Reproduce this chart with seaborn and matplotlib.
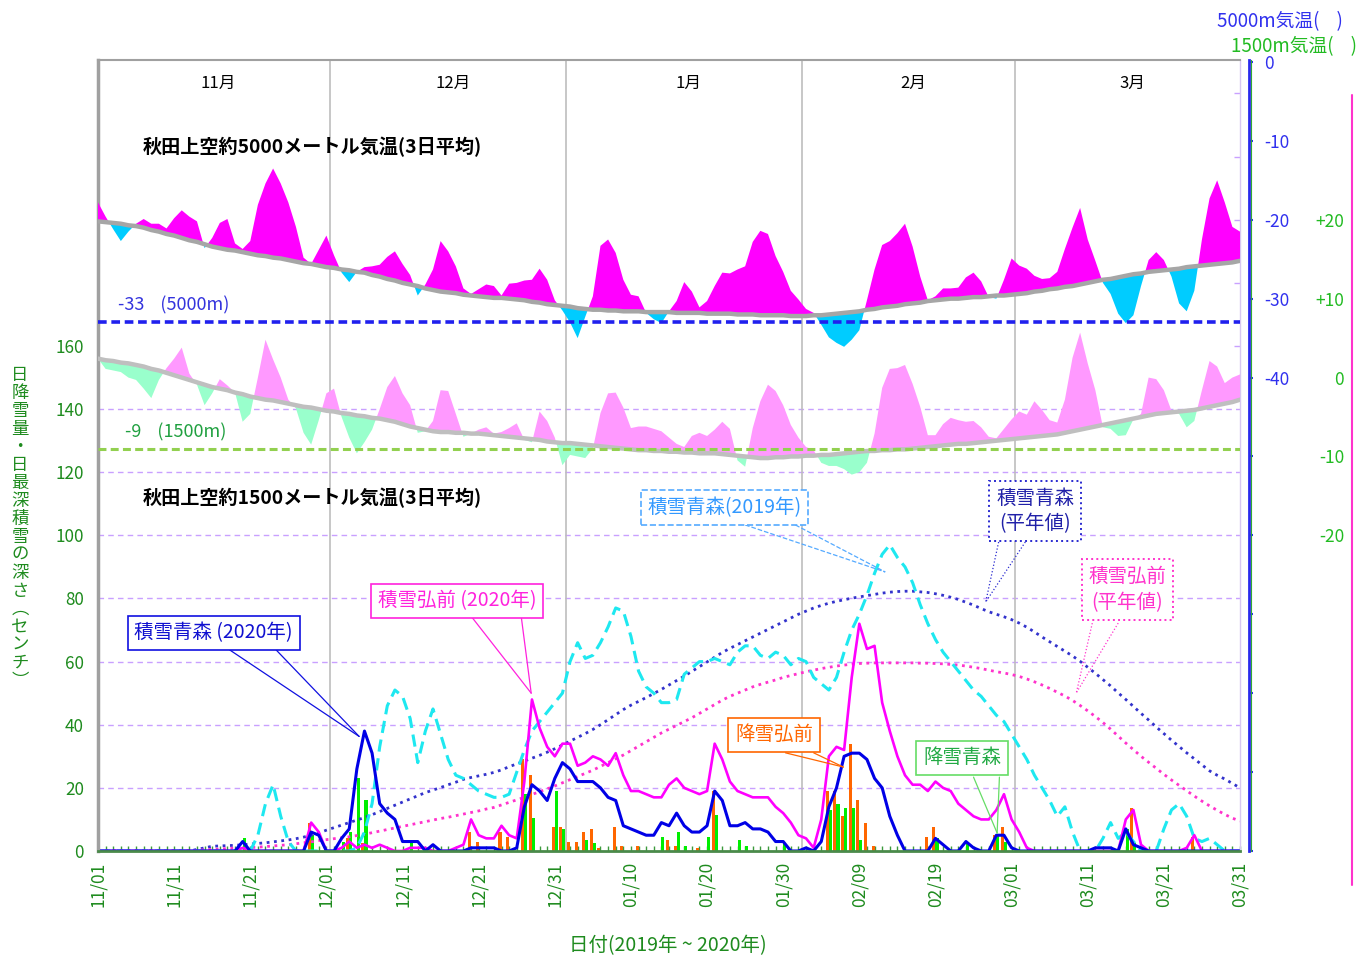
import numpy as np
import pandas as pd
import matplotlib
matplotlib.use("Agg")
import matplotlib.pyplot as plt
import matplotlib.transforms as mtransforms
from matplotlib.lines import Line2D
import seaborn as sns

sns.set_style("white")
plt.rcParams['font.family'] = ['Noto Sans CJK JP', 'DejaVu Sans']
plt.rcParams['axes.unicode_minus'] = False

# 日付 (シートに 2/29 はない)
dates = [d for d in pd.date_range("2019-11-01", "2020-03-31") if not (d.month == 2 and d.day == 29)]
days = np.arange(len(dates))
tick_days = list(range(0, len(dates), 10))
tick_labels = [dates[i].strftime("%m/%d") for i in tick_days]
month_names = ["11月", "12月", "1月", "2月", "3月"]

# 秋田上空5000m 気温 (3日平均) と平年値
temp5000 = [
    -17.8, -19.6, -21.2, -22.7, -21.5, -20.5, -19.9, -20.5, -20.5, -21.1,
    -19.8, -18.8, -19.6, -20.2, -23.6, -22.3, -20.4, -19.9, -23.0, -23.7,
    -22.7, -18.1, -15.4, -13.5, -15.4, -17.8, -20.9, -24.8, -25.6, -23.8,
    -22.0, -24.5, -26.7, -27.9, -26.6, -26.0, -25.9, -25.7, -24.7, -24.0,
    -25.6, -27.0, -29.6, -28.2, -26.3, -22.7, -24.0, -25.9, -28.7, -29.4,
    -28.8, -28.2, -28.4, -29.6, -28.1, -28.0, -27.7, -27.6, -26.2, -27.6,
    -30.2, -31.5, -33.0, -35.0, -32.3, -29.7, -23.3, -22.5, -24.2, -27.6,
    -29.5, -29.7, -31.8, -32.6, -33.1, -31.6, -30.3, -27.9, -29.1, -31.1,
    -30.3, -28.4, -26.7, -26.8, -26.3, -25.9, -22.8, -21.4, -21.8, -24.6,
    -26.6, -29.0, -30.1, -31.3, -31.8, -33.3, -34.9, -35.6, -36.1, -35.2,
    -34.0, -30.2, -26.3, -23.2, -22.7, -21.7, -20.5, -23.4, -27.2, -30.2,
    -29.7, -28.7, -28.7, -28.6, -27.3, -26.7, -27.8, -29.8, -30.0, -27.6,
    -24.9, -25.8, -26.2, -27.1, -27.5, -27.4, -26.6, -23.7, -21.0, -18.5,
    -22.5, -25.2, -28.0, -29.4, -31.9, -33.1, -32.1, -28.4, -25.1, -24.1,
    -25.1, -27.2, -30.6, -31.6, -29.0, -22.5, -17.3, -15.0, -17.8, -20.9,
    -21.5,
]
temp5000_norm = [
    -20.2, -20.3, -20.4, -20.5, -20.7, -20.8, -21.0, -21.3, -21.5, -21.8,
    -22.0, -22.3, -22.6, -22.8, -23.1, -23.4, -23.6, -23.8, -23.9, -24.1,
    -24.3, -24.5, -24.6, -24.8, -24.9, -25.1, -25.3, -25.5, -25.6, -25.8,
    -26.0, -26.1, -26.3, -26.4, -26.6, -26.7, -27.0, -27.2, -27.5, -27.7,
    -28.0, -28.2, -28.4, -28.7, -28.9, -29.1, -29.2, -29.3, -29.5, -29.6,
    -29.7, -29.8, -29.9, -29.9, -30.0, -30.1, -30.2, -30.4, -30.5, -30.7,
    -30.8, -30.9, -31.0, -31.2, -31.3, -31.4, -31.4, -31.5, -31.5, -31.6,
    -31.6, -31.6, -31.7, -31.7, -31.7, -31.7, -31.8, -31.8, -31.8, -31.8,
    -31.9, -31.9, -31.9, -31.9, -32.0, -32.0, -32.0, -32.1, -32.1, -32.1,
    -32.1, -32.2, -32.2, -32.2, -32.1, -32.1, -32.0, -31.9, -31.8, -31.7,
    -31.6, -31.4, -31.3, -31.1, -31.0, -30.9, -30.7, -30.6, -30.5, -30.3,
    -30.2, -30.1, -30.0, -30.0, -29.9, -29.8, -29.8, -29.7, -29.6, -29.6,
    -29.5, -29.4, -29.3, -29.1, -29.0, -28.8, -28.7, -28.5, -28.4, -28.2,
    -28.0, -27.8, -27.6, -27.5, -27.3, -27.1, -26.9, -26.8, -26.6, -26.5,
    -26.4, -26.3, -26.2, -26.0, -25.9, -25.8, -25.7, -25.6, -25.5, -25.4,
    -25.2,
]

# 秋田上空1500m 気温 (3日平均) と平年値
temp1500 = [
    2.4, 1.1, 0.9, 0.7, 0.0, -0.3, -1.4, -2.6, -0.3, 1.2,
    2.4, 3.8, 0.5, -0.9, -3.5, -2.0, -0.2, -1.0, -1.9, -5.6,
    -4.6, 0.0, 4.8, 2.3, 0.0, -2.8, -3.9, -7.0, -8.5, -5.4,
    -2.0, -1.4, -5.0, -7.6, -9.6, -8.2, -6.6, -4.0, -1.2, 0.2,
    -2.0, -3.5, -7.0, -6.8, -5.5, -1.6, -1.7, -4.6, -7.5, -7.1,
    -6.6, -6.3, -7.1, -6.9, -6.4, -5.8, -7.9, -8.2, -4.3, -5.5,
    -7.6, -11.1, -9.8, -10.0, -10.2, -9.0, -4.5, -2.0, -1.9, -3.8,
    -6.4, -6.2, -6.2, -6.5, -6.8, -7.6, -8.4, -8.8, -7.4, -7.0,
    -7.4, -6.6, -5.6, -6.5, -10.5, -11.3, -6.4, -3.0, -0.9, -1.7,
    -3.5, -6.0, -7.6, -8.8, -9.2, -10.8, -11.2, -11.2, -11.6, -12.3,
    -12.0, -10.8, -7.1, -1.3, 1.1, 1.2, 1.6, -0.8, -3.7, -7.3,
    -7.3, -5.9, -5.1, -5.4, -5.6, -5.5, -6.3, -7.5, -7.7, -6.5,
    -5.3, -4.3, -4.7, -3.0, -4.1, -5.4, -5.7, -2.8, 2.5, 5.7,
    1.8, -1.6, -6.3, -6.5, -7.4, -7.3, -5.3, -4.6, 0.0, -0.2,
    -1.6, -4.2, -4.6, -6.3, -5.5, -1.6, 2.1, 1.4, -0.7, 0.0,
    0.4,
]
temp1500_norm = [
    2.4, 2.2, 2.1, 1.9, 1.8, 1.6, 1.4, 1.1, 0.9, 0.6,
    0.3, 0.0, -0.3, -0.6, -0.9, -1.2, -1.4, -1.6, -1.9, -2.1,
    -2.4, -2.6, -2.8, -2.9, -3.1, -3.3, -3.5, -3.7, -3.8, -4.0,
    -4.2, -4.3, -4.5, -4.6, -4.8, -4.9, -5.1, -5.2, -5.4, -5.6,
    -5.9, -6.2, -6.4, -6.6, -6.8, -6.9, -6.9, -7.0, -7.0, -7.1,
    -7.1, -7.2, -7.3, -7.4, -7.5, -7.6, -7.7, -7.8, -7.9, -8.1,
    -8.2, -8.3, -8.3, -8.4, -8.5, -8.6, -8.7, -8.8, -8.9, -9.0,
    -9.1, -9.2, -9.2, -9.3, -9.3, -9.4, -9.4, -9.5, -9.5, -9.6,
    -9.6, -9.6, -9.7, -9.8, -9.9, -10.0, -10.1, -10.2, -10.2, -10.1,
    -10.1, -10.0, -10.0, -9.9, -9.9, -9.8, -9.8, -9.7, -9.6, -9.5,
    -9.4, -9.3, -9.3, -9.2, -9.2, -9.1, -9.1, -9.0, -8.9, -8.8,
    -8.7, -8.6, -8.5, -8.4, -8.4, -8.3, -8.2, -8.1, -8.0, -7.9,
    -7.8, -7.7, -7.6, -7.5, -7.4, -7.3, -7.2, -7.0, -6.8, -6.6,
    -6.4, -6.2, -6.0, -5.8, -5.6, -5.4, -5.2, -5.0, -4.8, -4.6,
    -4.5, -4.4, -4.3, -4.2, -4.1, -3.9, -3.7, -3.5, -3.3, -3.1,
    -2.8,
]

# 積雪の深さ (cm)
depth_aomori_2020 = [
    0, 0, 0, 0, 0, 0, 0, 0, 0, 0,
    0, 0, 0, 0, 0, 0, 0, 0, 0, 3,
    0, 0, 0, 0, 0, 0, 0, 0, 6, 5,
    0, 0, 4, 7, 26, 38, 31, 15, 12, 10,
    3, 3, 3, 0, 2, 0, 0, 0, 0, 1,
    1, 1, 1, 0, 0, 1, 14, 21, 19, 16,
    23, 28, 26, 22, 22, 22, 20, 17, 16, 8,
    7, 6, 5, 5, 9, 8, 12, 8, 6, 6,
    8, 19, 16, 8, 8, 9, 7, 7, 6, 3,
    3, 0, 0, 1, 0, 3, 14, 20, 30, 31,
    31, 29, 23, 20, 11, 5, 0, 0, 0, 0,
    4, 2, 0, 0, 3, 1, 0, 0, 5, 5,
    1, 0, 0, 0, 0, 0, 0, 0, 0, 0,
    0, 1, 1, 1, 0, 7, 2, 1, 0, 0,
    0, 0, 0, 0, 0, 0, 0, 0, 0, 0,
    0,
]
depth_hirosaki_2020 = [
    0, 0, 0, 0, 0, 0, 0, 0, 0, 0,
    0, 0, 0, 0, 0, 0, 0, 0, 0, 1,
    0, 0, 0, 0, 0, 0, 0, 0, 9, 6,
    0, 0, 1, 3, 1, 2, 1, 2, 1, 0,
    0, 1, 1, 1, 0, 0, 0, 1, 2, 10,
    5, 4, 4, 8, 5, 4, 22, 48, 39, 33,
    30, 34, 34, 27, 28, 30, 29, 27, 31, 24,
    19, 19, 18, 17, 17, 21, 23, 20, 19, 18,
    19, 34, 29, 22, 19, 18, 17, 17, 17, 14,
    12, 9, 5, 4, 1, 10, 30, 33, 32, 55,
    72, 64, 65, 47, 38, 30, 24, 21, 21, 19,
    22, 20, 19, 15, 13, 11, 10, 10, 13, 18,
    10, 6, 1, 0, 0, 0, 0, 0, 0, 0,
    0, 0, 0, 0, 0, 10, 13, 2, 0, 0,
    0, 0, 0, 1, 5, 0, 0, 0, 0, 0,
    0,
]
depth_aomori_2019 = [
    0, 0, 0, 0, 0, 0, 0, 0, 0, 0,
    0, 0, 0, 0, 0, 0, 0, 0, 0, 0,
    0, 5, 15, 21, 11, 3, 0, 0, 0, 0,
    0, 0, 0, 0, 1, 6, 15, 33, 46, 51,
    49, 42, 28, 38, 45, 37, 29, 24, 23, 21,
    19, 18, 17, 17, 18, 25, 32, 38, 41, 44,
    47, 50, 60, 66, 61, 62, 66, 71, 77, 76,
    68, 57, 52, 50, 47, 47, 48, 56, 58, 60,
    60, 61, 60, 59, 63, 65, 65, 62, 61, 63,
    62, 59, 61, 60, 55, 53, 51, 55, 63, 70,
    75, 81, 88, 94, 97, 93, 90, 85, 78, 72,
    67, 63, 60, 57, 54, 51, 49, 46, 43, 41,
    37, 33, 29, 24, 20, 16, 11, 14, 6, 0,
    0, 0, 4, 9, 4, 6, 3, 0, 0, 0,
    7, 13, 15, 11, 4, 3, 4, 2, 0, 0,
    0,
]
depth_aomori_norm = [
    0, 0, 0, 0, 0, 0, 0, 0, 0, 0,
    0, 0, 0, 0.5, 1, 1.5, 1.6, 1.7, 1.8, 2,
    2.2, 2.4, 2.6, 2.9, 3.2, 3.5, 3.9, 4.4, 5, 5.7,
    6.6, 7.4, 8.2, 9, 9.8, 10.6, 11.5, 12.5, 13.5, 14.5,
    15.5, 16.5, 17.5, 18.5, 19.3, 20.1, 21, 21.8, 22.7, 23.3,
    23.8, 24.3, 24.9, 25.7, 26.7, 27.6, 28.5, 29.4, 30.3, 31.3,
    32.4, 33.6, 34.8, 36, 37.2, 38.5, 40, 41.6, 43.2, 44.8,
    46.2, 47.4, 48.6, 49.9, 51.2, 52.6, 54, 55.4, 56.9, 58.4,
    59.9, 61.4, 62.9, 64.2, 65.4, 66.6, 67.8, 69, 70.2, 71.4,
    72.6, 73.8, 75, 76, 77, 77.8, 78.5, 79.1, 79.6, 80.1,
    80.5, 80.9, 81.3, 81.7, 82, 82.2, 82.3, 82.3, 82.1, 81.9,
    81.5, 81, 80.4, 79.7, 78.8, 77.9, 76.8, 75.8, 75, 74.2,
    73.3, 72.2, 70.9, 69.4, 67.8, 66.3, 64.8, 63.3, 61.8, 60.1,
    58.2, 56.3, 54.3, 52.3, 50.1, 48, 45.8, 43.6, 41.5, 39.3,
    37.2, 35.1, 33.1, 31.1, 29.2, 27.3, 25.4, 24, 22.8, 21.4,
    20,
]
depth_hirosaki_norm = [
    0, 0, 0, 0, 0, 0, 0, 0, 0, 0,
    0, 0, 0, 0.2, 0.4, 0.5, 0.6, 0.8, 0.9, 1,
    1.1, 1.2, 1.4, 1.6, 1.8, 2, 2.3, 2.6, 2.9, 3.3,
    3.6, 3.9, 4.2, 4.5, 4.9, 5.3, 5.8, 6.3, 6.8, 7.3,
    7.8, 8.3, 8.8, 9.3, 9.8, 10.3, 10.7, 11.2, 11.7, 12.2,
    12.7, 13.3, 13.8, 14.6, 15.4, 16.2, 17, 17.9, 18.8, 19.7,
    20.6, 21.6, 22.6, 23.6, 24.6, 25.6, 26.8, 28, 29.2, 30.4,
    31.8, 33.2, 34.6, 36, 37.4, 38.6, 39.8, 41, 42.2, 43.6,
    45, 46.4, 47.8, 49, 50, 51, 52, 52.8, 53.5, 54.2,
    55, 55.6, 56.2, 56.8, 57.3, 57.8, 58.2, 58.6, 58.9, 59.2,
    59.4, 59.5, 59.6, 59.6, 59.6, 59.6, 59.6, 59.6, 59.5, 59.5,
    59.4, 59.3, 59.1, 58.9, 58.6, 58.2, 57.8, 57.3, 56.8, 56.4,
    55.9, 55.3, 54.5, 53.6, 52.6, 51.5, 50.3, 49.1, 47.7, 46.1,
    44.4, 42.6, 40.7, 38.6, 36.4, 34.2, 32.1, 30, 28.1, 26.2,
    24.3, 22.5, 20.8, 19.1, 17.4, 15.8, 14.3, 12.9, 11.6, 10.4,
    9.5,
]

# 日降雪量 (cm)
snowfall_hirosaki = [
    0, 0, 0, 0, 0, 0, 0, 0, 0, 0,
    0, 0, 0, 0, 0, 0, 0, 0, 0, 0,
    0, 0, 0, 0, 0, 0, 0, 0, 9, 0,
    0, 0, 0, 4, 0, 2.5, 0, 0, 0, 0,
    0, 0, 0, 0, 0, 0, 0, 0, 0, 6,
    3, 0, 0, 6, 4.5, 0, 29, 24, 0, 0,
    7.5, 7.5, 3, 3, 6, 7, 1, 0, 7.5, 1.5,
    0, 1.5, 0, 0, 0, 3.5, 1.5, 0, 0, 1,
    0, 19, 0, 0, 0, 0, 0, 0, 0, 0,
    0, 0, 0, 0, 0, 0, 19, 19, 11, 34,
    16, 9, 1.5, 0, 0, 0, 0, 0, 0, 4.5,
    7.5, 0, 0, 0, 0, 0, 0, 0, 5, 7.5,
    0, 0, 0, 0, 0, 0, 0, 0, 0, 0,
    0, 0, 0, 0, 0, 0, 13.5, 0, 0, 0,
    0, 0, 0, 0, 4.5, 0, 0, 0, 0, 0,
    0,
]
snowfall_aomori = [
    0, 0, 0, 0, 0, 0, 0, 0, 0, 0,
    0, 0, 0, 0, 0, 0, 0, 0, 0, 4,
    0, 0, 0, 0, 0, 0, 0, 0, 5, 0,
    0, 0, 3, 6, 23, 16, 0, 0, 0, 0,
    0, 2.5, 0, 0, 0, 0, 0, 0, 0, 0,
    0, 0, 0, 0, 0, 0, 18, 10.5, 0, 0,
    19, 7, 0, 0, 3.5, 2.5, 0, 0, 0, 0,
    0, 0, 0, 0, 4.5, 0, 6, 1.5, 0, 0,
    4.5, 11.5, 0, 0, 3.5, 1.5, 0, 0, 0, 0,
    2.5, 0, 0, 0, 0, 0, 13, 15, 13.5, 13.5,
    3.5, 0, 0, 0, 0, 0, 0, 0, 0, 0,
    4, 0, 0, 0, 2.5, 0, 0, 0, 5.5, 3,
    0, 0, 0, 0, 0, 0, 0, 0, 0, 0,
    0, 0, 0, 0, 0, 7, 2.5, 0, 0, 0,
    0, 0, 0, 0, 0, 0, 0, 0, 0, 0,
    0,
]

GREEN_TXT = "#1E8B1E"
n = len(days)

fig = plt.figure(figsize=(13.6, 9.56), dpi=100)
ax = fig.add_axes([98 / 1360, 105 / 956, 1142 / 1360, 791 / 956])
ax2 = ax.twinx()
ax3 = ax.twinx()

# --- 降雪量の棒 ---
bars = pd.DataFrame({
    "day": np.concatenate([days, days]),
    "cm": np.concatenate([snowfall_hirosaki, snowfall_aomori]),
    "series": ["降雪弘前"] * n + ["降雪青森"] * n,
})
sns.barplot(data=bars, x="day", y="cm", hue="series", native_scale=True,
            palette=["#FF6600", "#00EE00"], saturation=1, errorbar=None,
            width=0.8, linewidth=0, legend=False, ax=ax)

# 補助線
for g in range(20, 141, 20):
    ax.axhline(g, color="#C9A0FF", lw=1, ls=(0, (4, 3)), zorder=0)
for g in range(160, 241, 20):
    ax.hlines(g, 149.2, 150, color="#C9A0FF", lw=1, zorder=0)

# --- 積雪の線 ---
sns.lineplot(x=days, y=depth_aomori_norm, ax=ax, color="#3333CC", linewidth=2.0, linestyle=":")
sns.lineplot(x=days, y=depth_hirosaki_norm, ax=ax, color="#FF33CC", linewidth=2.0, linestyle=":")
sns.lineplot(x=days, y=depth_aomori_2019, ax=ax, color="#1EE8F0", linewidth=2.2)
ax.get_lines()[-1].set_dashes([4, 2.2])
sns.lineplot(x=days, y=depth_hirosaki_2020, ax=ax, color="#FF00FF", linewidth=1.9)
sns.lineplot(x=days, y=depth_aomori_2020, ax=ax, color="#0000E6", linewidth=2.2)

# 月の区切り
bounds = [0, 30.5, 61.5, 92.5, 120.5, 150]
for b in bounds[1:-1]:
    ax.axvline(b, color="#BDBDBD", lw=1.2, zorder=1)
trans = mtransforms.blended_transform_factory(ax.transData, ax.transAxes)
for i, name in enumerate(month_names):
    ax.text((bounds[i] + bounds[i + 1]) / 2 + 0.6, 0.970, name, transform=trans,
            ha="center", va="center", fontsize=12, color="black")

# --- 5000m 気温 ---
t5 = np.array(temp5000)
t5n = np.array(temp5000_norm)
ax2.fill_between(days, t5, t5n, where=t5 >= t5n, interpolate=True, color="#FF00FF", lw=0)
ax2.fill_between(days, t5, t5n, where=t5 < t5n, interpolate=True, color="#00CCFF", lw=0)
sns.lineplot(x=days, y=t5n, ax=ax2, color="#A6A6A6", linewidth=3.2)
ax2.axhline(-33, color="#2020EE", lw=2.6, ls=(0, (2.4, 1.3)))
ax2.text(2.6, -30.9, "-33    (5000m)", color="#3333DD", fontsize=13, va="center")

# --- 1500m 気温 ---
t15 = np.array(temp1500)
t15n = np.array(temp1500_norm)
ax3.fill_between(days, t15, t15n, where=t15 >= t15n, interpolate=True, color="#FF99FF", lw=0)
ax3.fill_between(days, t15, t15n, where=t15 < t15n, interpolate=True, color="#99FFCC", lw=0)
sns.lineplot(x=days, y=t15n, ax=ax3, color="#BFBFBF", linewidth=3.2)
ax3.axhline(-9, color="#92D050", lw=2.2, ls=(0, (2.6, 1.4)))
ax3.text(3.5, -7.0, "-9    (1500m)", color="#20A040", fontsize=13, va="center")

ax.text(5.9, 0.89, "秋田上空約5000メートル気温(3日平均)", transform=trans,
        fontsize=13.8, fontweight="bold", va="center", color="black")
ax.text(5.9, 0.4463, "秋田上空約1500メートル気温(3日平均)", transform=trans,
        fontsize=13.8, fontweight="bold", va="center", color="black")

# --- 吹き出し ---
def callout(text, center, feet, tip, ec, tc, ls="-", lw=1.2):
    ax.text(center[0], center[1], text, ha="center", va="center", color=tc,
            fontsize=14, linespacing=1.3, zorder=8,
            bbox=dict(boxstyle="square,pad=0.35", fc="white", ec=ec, lw=lw, ls=ls))
    for fx in feet:
        ax.plot([fx[0], tip[0]], [fx[1], tip[1]], color=ec, lw=0.9, ls=ls, zorder=7)

callout("積雪青森 (2020年)", (15.2, 69.1), [(17.3, 63.7), (23.4, 63.7)], (34.3, 36.3), "#1010E0", "#1010D0")
callout("積雪弘前 (2020年)", (47.2, 79.2), [(49.1, 74.1), (55.6, 74.1)], (56.9, 50.0), "#FF22DD", "#FF22DD")
callout("積雪青森(2019年)", (82.3, 108.8), [(85.0, 103.3), (91.6, 103.3)], (103.4, 88.4), "#55AAFF", "#3399FF", ls="--")
callout("積雪青森\n(平年値)", (123.1, 107.7), [(118.3, 97.9), (121.8, 97.9)], (116.6, 78.9), "#2A2AD0", "#2020A8", ls=":", lw=1.4)
callout("積雪弘前\n(平年値)", (135.2, 82.9), [(130.6, 72.2), (134.0, 72.2)], (128.5, 50.1), "#FF33CC", "#FF33CC", ls=":", lw=1.4)
callout("降雪弘前", (88.8, 36.8), [(90.3, 31.1), (94.0, 31.1)], (97.9, 26.6), "#FF6600", "#FF6600")
callout("降雪青森", (113.5, 29.5), [(115.0, 23.4), (118.4, 23.4)], (118.1, 5.7), "#66DD66", "#22AA44")

# --- 軸 ---
ax.set_xlim(0, 150)
ax.set_ylim(0, 250.6)
ax2.set_ylim(-100, 0.25)
ax3.set_ylim(-60, 40.25)

ax.set_xticks(tick_days)
ax.set_xticklabels(tick_labels, rotation=90)
ax.set_xticks(days, minor=True)
ax.tick_params(axis="x", which="both", direction="in", length=3.5, width=1,
               color="#3C9A3C", pad=8, bottom=True, labelsize=12.5, labelcolor=GREEN_TXT)
ax.set_yticks(range(0, 161, 20))
ax.tick_params(axis="y", length=0, pad=10, labelsize=12.3, labelcolor=GREEN_TXT)
ax.set_xlabel("")
ax.set_ylabel("")
ax.grid(False)

ax.spines["left"].set_color("#A0A0A0")
ax.spines["left"].set_linewidth(2.5)
ax.spines["top"].set_color("#A0A0A0")
ax.spines["top"].set_linewidth(1.5)
ax.spines["right"].set_color("#D8C8F0")
ax.spines["right"].set_linewidth(1)
ax.spines["bottom"].set_color("#4A8A4A")
ax.spines["bottom"].set_linewidth(2)

for a in (ax2, ax3):
    a.set_ylabel("")
    a.grid(False)
    for s in ("left", "top", "bottom"):
        a.spines[s].set_visible(False)

t5_ticks = list(range(-100, 1, 10))
ax2.set_yticks(t5_ticks)
ax2.set_yticklabels([str(v) if v >= -40 else "" for v in t5_ticks])
ax2.spines["right"].set_position(("outward", 6.5))
ax2.spines["right"].set_color("#2A2AEE")
ax2.spines["right"].set_linewidth(2)
ax2.tick_params(axis="y", direction="out", length=3, width=1.5, color="#2A2AEE", pad=8,
                labelsize=12.5, labelcolor="#3030EE")

t15_ticks = [20, 10, 0, -10, -20]
ax3.set_yticks(t15_ticks)
ax3.set_yticklabels(["+20", "+10", "0", "-10", "-20"])
ax3.spines["right"].set_position(("outward", 8))
ax3.spines["right"].set_color("#33AA33")
ax3.spines["right"].set_linewidth(0.8)
ax3.tick_params(axis="y", length=0, pad=67, labelsize=12.5, labelcolor="#22BB22")
for lab in ax3.get_yticklabels():
    lab.set_horizontalalignment("right")

# 軸の見出し
fig.text(668 / 1360, 1 - 946 / 956, "日付(2019年 ~ 2020年)", ha="center", va="center",
         color=GREEN_TXT, fontsize=14)
ylab = ["日", "降", "雪", "量", "・", "日", "最", "深", "積", "雪", "の", "深", "さ", "︵", "セ", "ン", "チ", "︶"]
fig.text(20 / 1360, 1 - 528 / 956, "\n".join(ylab), ha="center", va="center",
         color=GREEN_TXT, fontsize=12.5, linespacing=1.0)
fig.text(1343 / 1360, 1 - 22 / 956, "5000m気温(    )", ha="right", va="center",
         color="#3030EE", fontsize=13.5)
fig.text(1357 / 1360, 1 - 47 / 956, "1500m気温(    )", ha="right", va="center",
         color="#22BB22", fontsize=13.5)
fig.add_artist(Line2D([1352 / 1360] * 2, [1 - 95 / 956, 1 - 885 / 956], color="#FF33CC", lw=1.5))

fig.savefig("out.png", dpi=100)
